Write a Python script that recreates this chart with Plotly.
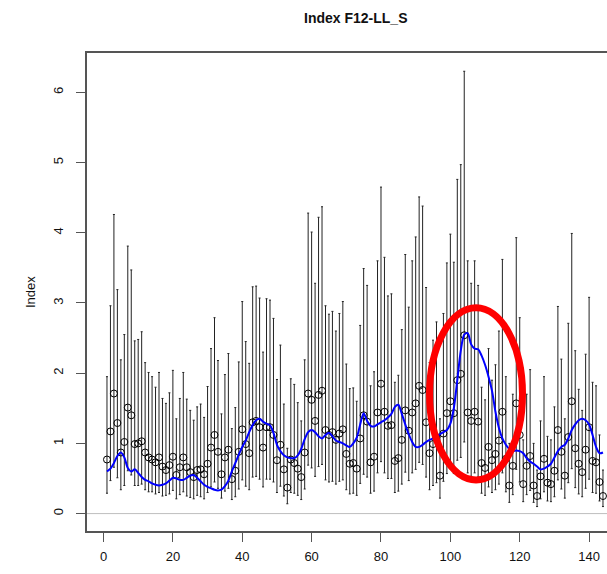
import plotly.graph_objects as go

# ---------------- data ----------------
x_index = list(range(1, 145))

center = [0.77, 1.17, 1.71, 1.29, 0.87, 1.02, 1.51, 1.40, 0.99, 1.00,
          1.03, 0.87, 0.80, 0.77, 0.73, 0.80, 0.67, 0.62, 0.69, 0.81,
          0.55, 0.66, 0.80, 0.66, 0.59, 0.52, 0.62, 0.63, 0.56, 0.71,
          0.94, 1.12, 0.88, 0.56, 0.80, 0.91, 0.49, 0.61, 0.88, 1.20,
          0.99, 0.86, 1.30, 1.32, 1.23, 0.94, 1.23, 1.23, 1.12, 0.76,
          0.98, 0.63, 0.37, 0.77, 0.72, 0.64, 0.52, 0.87, 1.71, 1.62,
          1.32, 1.69, 1.75, 1.19, 1.12, 1.16, 1.05, 1.14, 1.20, 0.85,
          0.71, 0.72, 0.64, 1.07, 1.40, 1.31, 0.73, 0.81, 1.44, 1.85,
          1.45, 1.25, 1.26, 0.75, 0.79, 1.05, 1.47, 1.18, 1.44, 1.57,
          1.82, 1.76, 1.30, 0.86, 0.99, 1.09, 0.54, 1.14, 1.43, 1.60,
          1.43, 1.90, 1.99, 2.54, 1.44, 1.32, 1.45, 1.31, 0.72, 0.65,
          0.95, 0.76, 0.85, 1.04, 1.45, 0.78, 0.40, 0.68, 1.57, 1.12,
          0.42, 0.68, 0.82, 0.40, 0.25, 0.53, 0.78, 0.44, 0.42, 0.61,
          1.19, 0.88, 0.54, 1.09, 1.60, 0.93, 0.71, 0.59, 0.91, 1.23,
          0.75, 0.73, 0.45, 0.25]

upper = [1.95, 2.96, 4.26, 3.19, 2.19, 2.55, 3.81, 3.47, 2.46, 2.48,
         2.59, 2.15, 2.01, 1.95, 1.80, 2.01, 1.64, 1.57, 1.72, 2.04,
         1.35, 1.64, 2.01, 1.63, 1.47, 1.33, 1.52, 1.56, 1.37, 1.81,
         2.35, 2.79, 2.18, 1.42, 1.98, 2.28, 1.21, 1.51, 2.16, 3.02,
         2.45, 2.14, 3.23, 3.24, 3.07, 2.30, 3.06, 3.04, 2.78, 1.91,
         2.40, 1.56, 0.93, 1.92, 1.84, 1.58, 1.32, 2.19, 4.28, 4.01,
         3.28, 4.22, 4.37, 2.96, 2.84, 2.88, 2.60, 2.85, 3.02, 2.13,
         1.78, 1.79, 1.60, 2.68, 3.49, 3.25, 1.82, 2.02, 3.60, 4.65,
         3.65, 3.10, 3.13, 1.87, 1.97, 2.62, 3.69, 2.94, 3.60, 3.94,
         4.51, 4.38, 3.22, 2.15, 2.47, 2.73, 1.35, 2.85, 3.57, 3.98,
         3.58, 4.76, 4.97, 6.30, 3.60, 3.28, 3.60, 3.25, 1.80, 1.62,
         2.35, 1.90, 2.12, 2.60, 3.62, 1.95, 1.00, 1.70, 3.93, 2.79,
         1.05, 1.70, 2.05, 1.00, 0.62, 1.32, 1.95, 1.10, 1.05, 1.52,
         2.95, 2.20, 1.35, 2.71, 3.99, 2.32, 1.77, 1.47, 2.27, 3.08,
         1.87, 1.82, 1.12, 0.62]

lower = [0.29, 0.47, 0.66, 0.51, 0.34, 0.40, 0.61, 0.55, 0.40, 0.40,
         0.42, 0.34, 0.31, 0.31, 0.28, 0.30, 0.25, 0.26, 0.28, 0.33,
         0.21, 0.27, 0.31, 0.25, 0.23, 0.21, 0.26, 0.24, 0.21, 0.30,
         0.38, 0.45, 0.36, 0.22, 0.32, 0.36, 0.20, 0.24, 0.35, 0.48,
         0.39, 0.34, 0.52, 0.53, 0.49, 0.38, 0.49, 0.49, 0.45, 0.30,
         0.39, 0.25, 0.14, 0.30, 0.29, 0.26, 0.20, 0.35, 0.69, 0.65,
         0.53, 0.67, 0.70, 0.48, 0.45, 0.46, 0.42, 0.46, 0.48, 0.34,
         0.28, 0.29, 0.26, 0.43, 0.56, 0.52, 0.29, 0.32, 0.58, 0.74,
         0.58, 0.50, 0.50, 0.30, 0.32, 0.42, 0.59, 0.47, 0.58, 0.63,
         0.73, 0.70, 0.52, 0.34, 0.40, 0.44, 0.22, 0.46, 0.57, 0.64,
         0.57, 0.76, 0.80, 1.02, 0.58, 0.53, 0.58, 0.52, 0.29, 0.26,
         0.38, 0.30, 0.34, 0.42, 0.58, 0.31, 0.16, 0.27, 0.63, 0.45,
         0.17, 0.27, 0.33, 0.16, 0.10, 0.21, 0.31, 0.18, 0.17, 0.24,
         0.48, 0.35, 0.22, 0.44, 0.64, 0.37, 0.28, 0.24, 0.36, 0.49,
         0.30, 0.29, 0.18, 0.10]

smooth = [0.60, 0.64, 0.72, 0.82, 0.87, 0.80, 0.65, 0.60, 0.63, 0.58,
          0.52, 0.48, 0.46, 0.43, 0.41, 0.40, 0.41, 0.43, 0.47, 0.51,
          0.50, 0.48, 0.48, 0.51, 0.54, 0.55, 0.51, 0.46, 0.41, 0.38,
          0.36, 0.34, 0.33, 0.34, 0.39, 0.47, 0.60, 0.72, 0.84, 0.95,
          1.04, 1.16, 1.26, 1.33, 1.35, 1.31, 1.28, 1.26, 1.15, 0.98,
          0.89, 0.83, 0.80, 0.79, 0.79, 0.83, 0.92, 1.06, 1.16, 1.19,
          1.16, 1.10, 1.07, 1.12, 1.15, 1.10, 1.04, 1.02, 1.00, 0.97,
          0.95, 1.00, 1.08, 1.27, 1.43, 1.32, 1.25, 1.24, 1.27, 1.30,
          1.33, 1.37, 1.42, 1.52, 1.55, 1.42, 1.27, 1.13, 1.02, 0.95,
          0.95, 0.98, 1.02, 1.05, 1.07, 1.10, 1.13, 1.16, 1.19, 1.28,
          1.50, 1.90, 2.32, 2.55, 2.57, 2.41, 2.35, 2.34, 2.25, 2.12,
          1.95, 1.75, 1.45, 1.22, 1.07, 0.98, 0.92, 0.89, 0.90, 0.89,
          0.86, 0.79, 0.74, 0.71, 0.67, 0.63, 0.64, 0.67, 0.71, 0.80,
          0.89, 0.95, 0.98, 1.07, 1.19, 1.27, 1.33, 1.35, 1.33, 1.27,
          1.12, 0.95, 0.86, 0.87]

x_ticks = [0, 20, 40, 60, 80, 100, 120, 140]
y_ticks = [0, 1, 2, 3, 4, 5, 6]
title_text = "Index F12-LL_S"
y_title = "Index"

# highlighted region (red ellipse), data coordinates
hl_x = [94.0, 120.8]
hl_y = [0.48, 2.93]

# ---------------- figure ----------------
err_plus = [u - c for u, c in zip(upper, center)]
err_minus = [c - l for c, l in zip(center, lower)]

fig = go.Figure()

fig.add_trace(go.Scatter(
    x=x_index, y=center, mode="markers",
    marker=dict(symbol="circle-open", size=7, color="black",
                line=dict(width=1, color="black")),
    error_y=dict(type="data", symmetric=False, array=err_plus,
                 arrayminus=err_minus, color="#222222", thickness=1, width=1),
    showlegend=False, hoverinfo="skip"))

fig.add_trace(go.Scatter(
    x=x_index, y=smooth, mode="lines",
    line=dict(color="#0000FF", width=2, shape="spline", smoothing=0.8),
    showlegend=False, hoverinfo="skip"))

font_family = "Liberation Sans, Arial, sans-serif"

fig.update_layout(
    width=607, height=574,
    margin=dict(l=87, r=0, t=53, b=43),
    paper_bgcolor="white", plot_bgcolor="white",
    font=dict(family=font_family, size=13, color="#111111"),
    xaxis=dict(range=[-4.76, 145.16], tickmode="array", tickvals=x_ticks,
               showgrid=False, zeroline=False,
               showline=True, mirror=True, linecolor="#555555", linewidth=1.5,
               ticks="outside", ticklen=9, tickcolor="#555555", tickwidth=1,
               tickfont=dict(size=13, color="#111111"),
               ticklabelstandoff=4),
    yaxis=dict(range=[-0.248, 6.56], tickmode="array", tickvals=y_ticks,
               showgrid=False, zeroline=False,
               showline=True, mirror=False, linecolor="#555555", linewidth=1.5,
               ticks="outside", ticklen=9, tickcolor="#555555", tickwidth=1,
               tickangle=-90,
               tickfont=dict(size=13, color="#111111"),
               ticklabelstandoff=8),
    shapes=[
        dict(type="line", xref="paper", yref="y", x0=0, x1=1, y0=0, y1=0,
             line=dict(color="#BEBEBE", width=1), layer="below"),
        dict(type="circle", xref="x", yref="y",
             x0=hl_x[0], x1=hl_x[1], y0=hl_y[0], y1=hl_y[1],
             line=dict(color="#FF0000", width=7), layer="above"),
    ],
    annotations=[
        dict(text="<b>" + title_text + "</b>", xref="paper", yref="paper",
             x=0.517, y=1.073, xanchor="center", yanchor="middle",
             showarrow=False, font=dict(size=14, color="#111111")),
        dict(text=y_title, xref="paper", yref="paper",
             x=-0.1096, y=0.5, xanchor="center", yanchor="middle",
             textangle=-90, showarrow=False,
             font=dict(size=13, color="#111111")),
    ],
)

fig.write_html("out.html")
